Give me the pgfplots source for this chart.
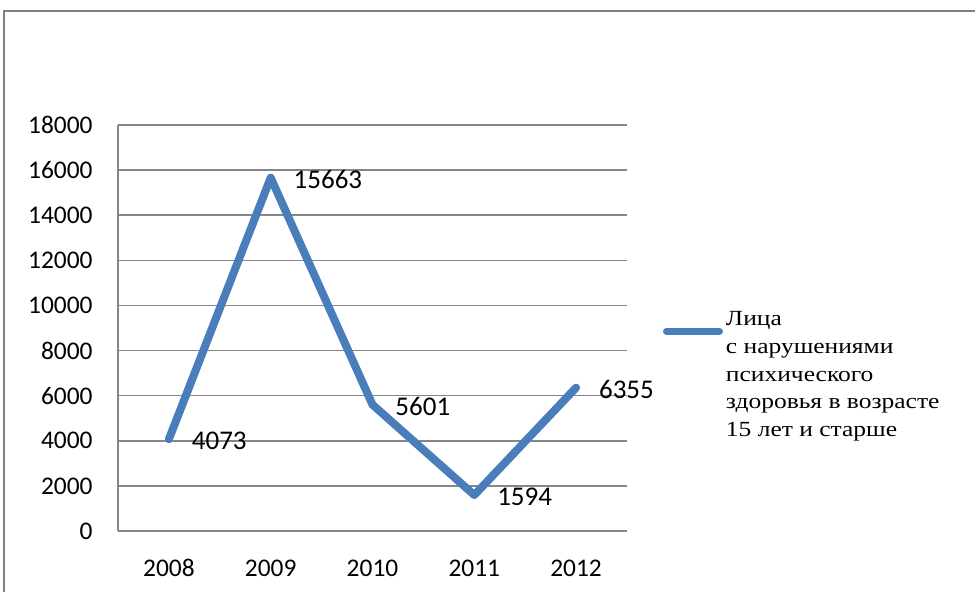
\documentclass[border=0pt]{standalone}
\usepackage{pgfplots}
\pgfplotsset{compat=1.18}
\usepackage{fontspec}
\setmainfont{Carlito}
\newfontfamily\legfont[FakeStretch=1.18]{Liberation Serif}
\definecolor{serblue}{RGB}{74,126,187}
\definecolor{gridgray}{RGB}{134,134,134}
\definecolor{framegray}{RGB}{128,128,128}

\begin{document}
\begin{tikzpicture}
\path[use as bounding box] (0,0) rectangle (487.5pt,295.5pt);
\draw[framegray, line width=1.2pt] (2pt,-5pt) -- (2pt,290pt) -- (495pt,290pt);
\begin{axis}[
  at={(59pt,30pt)}, anchor=south west,
  scale only axis, width=254.5pt, height=203pt,
  xmin=-0.5, xmax=4.5, ymin=0, ymax=18000,
  xtick={0,1,2,3,4}, xticklabels={2008,2009,2010,2011,2012},
  ytick={0,2000,...,18000},
  scaled y ticks=false,
  /pgf/number format/1000 sep={},
  /pgf/number format/assume math mode=true,
  axis x line*=bottom, axis y line*=left,
  axis line style={gridgray, line width=0.75pt},
  major tick length=0pt,
  ymajorgrids, grid style={gridgray, line width=0.75pt},
  tick label style={font=\fontsize{12.7}{15}\selectfont},
  yticklabel style={inner sep=0pt, xshift=-12.5pt},
  xticklabel style={inner sep=0pt, yshift=-14.5pt, anchor=north,
    text height=8pt, text depth=0pt},
  clip=false,
  nodes near coords,
  every node near coord/.append style={anchor=west, xshift=9.5pt, yshift=-1pt,
    inner sep=0pt, text=black, font=\fontsize{13.5}{16}\selectfont},
  legend style={draw=none, fill=none, inner sep=0pt, outer sep=0pt,
    at={(axis description cs:1.0707,0.540)}, anchor=north west,
    font=\legfont\fontsize{10.8}{13.8}\selectfont,
    nodes={inner sep=0pt, outer sep=0pt},
    cells={anchor=north west, align=left}, column sep=1.5pt},
  legend image code/.code={
    \path[draw=none, fill=none] (0pt,0pt) -- (30pt,0pt);
    \draw[#1, line width=3.6pt] (1.8pt,-9.75pt) -- (28.2pt,-9.75pt);},
]
\addplot[serblue, line width=4pt, line join=round, line cap=round] coordinates {
  (0,4073) (1,15663) (2,5601) (3,1594) (4,6355)
};
\addlegendentry{Лица\\с нарушениями\\психического\\здоровья в возрасте\\15 лет и старше}
\end{axis}
\end{tikzpicture}
\end{document}
